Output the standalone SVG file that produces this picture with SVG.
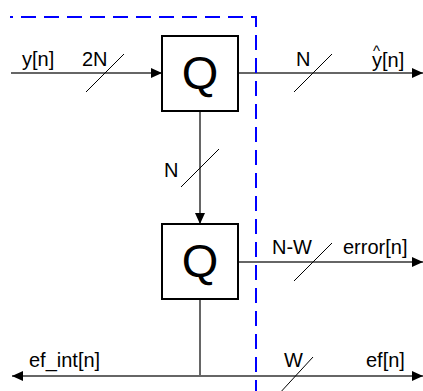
<svg xmlns="http://www.w3.org/2000/svg" width="423" height="391" viewBox="0 0 423 391">
<defs>
<style>
.w{fill:none;stroke:#666;stroke-width:2}
.s{stroke:#000;stroke-width:1}
.b{fill:#fff;stroke:#000;stroke-width:2}
.t{font-family:"Liberation Sans",Arial,sans-serif;font-size:20px;fill:#000}
.q{font-family:"Liberation Sans",Arial,sans-serif;font-size:47px;fill:#000;text-anchor:middle}
</style>
<marker id="ah" markerWidth="11" markerHeight="10" refX="11" refY="5" orient="auto" markerUnits="userSpaceOnUse">
<path d="M0,0 L11,5 L0,10 Z" fill="#000"/>
</marker>
<marker id="ahs" markerWidth="11" markerHeight="10" refX="11" refY="5" orient="auto-start-reverse" markerUnits="userSpaceOnUse">
<path d="M0,0 L11,5 L0,10 Z" fill="#000"/>
</marker>
</defs>
<rect width="423" height="391" fill="#fff"/>
<g id="connectors">
<line class="w" x1="11" y1="73" x2="162" y2="73" marker-end="url(#ah)"/>
<line class="w" x1="238" y1="73" x2="423" y2="73" marker-end="url(#ah)"/>
<line class="w" x1="200" y1="111" x2="200" y2="224" marker-end="url(#ah)"/>
<line class="w" x1="238" y1="262" x2="423" y2="262" marker-end="url(#ah)"/>
<line class="w" x1="200" y1="300" x2="200" y2="376"/>
<line class="w" x1="12" y1="376" x2="423" y2="376" marker-start="url(#ahs)" marker-end="url(#ah)"/>
<line class="s" x1="86" y1="92" x2="124" y2="54"/>
<line class="s" x1="294" y1="92" x2="332" y2="54"/>
<line class="s" x1="181" y1="187" x2="219" y2="149"/>
<line class="s" x1="294" y1="281" x2="332" y2="243"/>
<line class="s" x1="278" y1="395" x2="313" y2="357"/>
</g>
<g id="boundary">
<path d="M10,17 H256 V391" fill="none" stroke="#0000ff" stroke-width="2" stroke-dasharray="15 8" stroke-dashoffset="12"/>
</g>
<g id="q1">
<rect class="b" x="162" y="36" width="76" height="75"/>
<text class="q" x="200" y="89">Q</text>
</g>
<g id="q2">
<rect class="b" x="162" y="224" width="76" height="75"/>
<text class="q" x="200" y="277">Q</text>
</g>
<g id="labels">
<text class="t" x="22" y="66">y[n]</text>
<text class="t" x="82" y="66">2N</text>
<text class="t" x="296" y="66">N</text>
<text class="t"><tspan x="373" y="56" font-size="15">^</tspan><tspan x="372" y="67">y[n]</tspan></text>
<text class="t" x="164" y="177">N</text>
<text class="t" x="272" y="254">N-W</text>
<text class="t" x="343" y="254">error[n]</text>
<text class="t" x="284" y="367">W</text>
<text class="t" x="366" y="367">ef[n]</text>
<text class="t" x="29" y="367">ef_int[n]</text>
</g>
</svg>
